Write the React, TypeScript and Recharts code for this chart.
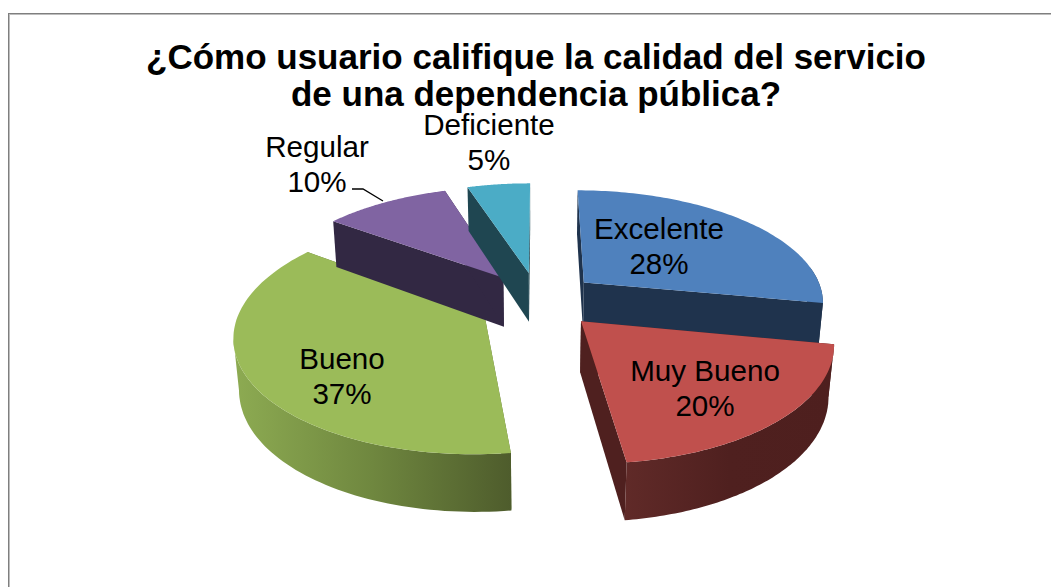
import { PieChart, Pie } from "recharts";

const categories = ["Excelente", "Muy Bueno", "Bueno", "Regular", "Deficiente"];
const shares = [28, 20, 37, 10, 5];
const data = categories.map((name, i) => ({ name, value: shares[i] }));

const titleLines = [
  "¿Cómo usuario califique la calidad del servicio",
  "de una dependencia pública?",
];

const TOP_COLORS = ["#4f81bd", "#c0504d", "#9bbb59", "#8064a2", "#4bacc6"];
const WALL_COLORS = ["#1f334d", "#4f201f", "#5c6f36", "#322843", "#1f4651"];
// horizontal shading of the curved wall, left to right
const WALL_STOPS = [
  ["#1f334d", "#1f334d"],
  ["#602a28", "#4f201f", "#4e1f1e"],
  ["#8dab52", "#6f873f", "#4e5c2c"],
  ["#322843", "#322843"],
  ["#1f4651", "#1f4651"],
];
// label centre x and first baseline
const LABEL_POS = [
  [659, 239],
  [705, 381],
  [342, 369],
  [317, 157],
  [489, 135],
];

const RX = 241;
const RY = 112;
const DEPTH = 51;
const EXPLODE = 0.253;
const PERSP = 0.16;
const PERSP_Z = 0.018;
const FONT = "'Liberation Sans', Arial, sans-serif";

const rad = (a: number) => (a * Math.PI) / 180;

function Slice3D(props: any) {
  const { cx, cy, startAngle, endAngle, index } = props;
  const mid = rad((startAngle + endAngle) / 2);
  const ox = EXPLODE * Math.cos(mid);
  const od = EXPLODE * Math.sin(mid);

  const project = (x: number, d: number, z: number) => {
    const s = 1 / (1 + PERSP * (d + od) + PERSP_Z * z);
    return [cx + RX * (x + ox) * s, cy - RY * (d + od) * s + DEPTH * z * s];
  };
  const rim = (a: number, z: number) => project(Math.cos(rad(a)), Math.sin(rad(a)), z);
  const toPath = (pts: number[][]) =>
    "M" + pts.map((p) => `${p[0].toFixed(1)},${p[1].toFixed(1)}`).join("L") + "Z";

  const steps = 90;
  const angles: number[] = [];
  for (let i = 0; i <= steps; i++) {
    angles.push(startAngle + ((endAngle - startAngle) * i) / steps);
  }

  const apexTop = project(0, 0, 0);
  const apexBottom = project(0, 0, 1);
  const top = [apexTop, ...angles.map((a) => rim(a, 0))];
  const radialA = [apexTop, rim(startAngle, 0), rim(startAngle, 1), apexBottom];
  const radialB = [apexTop, rim(endAngle, 0), rim(endAngle, 1), apexBottom];

  // curved wall only between the widest points of the rim, so its edge is the silhouette
  const near = angles.filter((a) => Math.sin(rad(a)) <= 0.15);
  const xs = near.map((a) => rim(a, 0)[0]);
  const iMin = xs.indexOf(Math.min(...xs));
  const iMax = xs.indexOf(Math.max(...xs));
  const front = near.slice(Math.min(iMin, iMax), Math.max(iMin, iMax) + 1);
  const wall = [
    ...front.map((a) => rim(a, 0)),
    ...front.slice().reverse().map((a) => rim(a, 1)),
  ];
  const gradId = `wall-${index}`;
  const stops = WALL_STOPS[index];

  return (
    <g>
      <defs>
        <linearGradient id={gradId} x1="0" y1="0" x2="1" y2="0">
          {stops.map((c, i) => (
            <stop key={i} offset={i / (stops.length - 1)} stopColor={c} />
          ))}
        </linearGradient>
      </defs>
      <path d={toPath(radialA)} fill={WALL_COLORS[index]} />
      <path d={toPath(radialB)} fill={WALL_COLORS[index]} />
      {front.length > 1 && <path d={toPath(wall)} fill={`url(#${gradId})`} />}
      <path d={toPath(top)} fill={TOP_COLORS[index]} />
    </g>
  );
}

function SliceLabel(props: any) {
  const { index, name, value } = props;
  const [x, y] = LABEL_POS[index];
  return (
    <g>
      {index === 3 && (
        <polyline points="352,189 363,189 383,201" fill="none" stroke="#000" strokeWidth={1.3} />
      )}
      <text x={x} y={y} textAnchor="middle" fontFamily={FONT} fontSize={29.6} fill="#000">
        <tspan x={x}>{name}</tspan>
        <tspan x={x} dy={35}>{`${value}%`}</tspan>
      </text>
    </g>
  );
}

export default function App() {
  return (
    <div
      style={{
        position: "absolute",
        left: 0,
        top: 0,
        width: 1051,
        height: 587,
        background: "#fff",
        overflow: "hidden",
      }}
    >
      <div
        style={{
          position: "absolute",
          left: 8,
          top: 13,
          width: 1060,
          height: 600,
          borderTop: "1px solid #7f7f7f",
          borderLeft: "1px solid #7f7f7f",
          boxShadow: "inset 1px 1px 0 #bdbdbd",
        }}
      />
      <div style={{ position: "absolute", left: 0, top: 0 }}>
        <PieChart width={1051} height={587}>
          <text
            x={536}
            y={69}
            textAnchor="middle"
            fontFamily={FONT}
            fontWeight="bold"
            fontSize={35}
            fill="#000"
          >
            <tspan x={536}>{titleLines[0]}</tspan>
            <tspan x={536} dy={37}>{titleLines[1]}</tspan>
          </text>
          <Pie
            data={data}
            dataKey="value"
            nameKey="name"
            cx={533}
            cy={295}
            outerRadius={RX}
            startAngle={90}
            endAngle={-270}
            stroke="none"
            isAnimationActive={false}
            labelLine={false}
            label={SliceLabel}
            shape={Slice3D}
          />
        </PieChart>
      </div>
    </div>
  );
}
